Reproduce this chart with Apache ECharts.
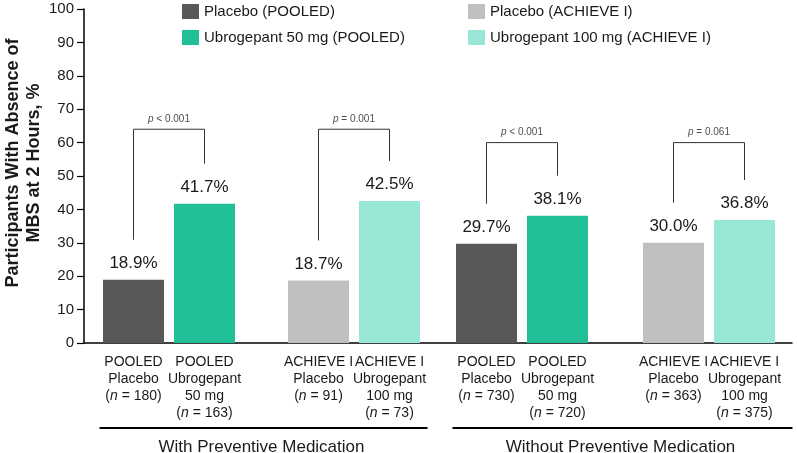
<!DOCTYPE html>
<html>
<head>
<meta charset="utf-8">
<script src="https://cdn.jsdelivr.net/npm/echarts@6/dist/echarts.min.js"></script>
<style>html,body{margin:0;padding:0;background:#fff;}#c{width:797px;height:453px;}</style>
</head>
<body>
<div id="c"></div>
<script>
// ---- data ----
const studyLabels = ['POOLED', 'POOLED', 'ACHIEVE I', 'ACHIEVE I', 'POOLED', 'POOLED', 'ACHIEVE I', 'ACHIEVE I'];
const armLabels = ['Placebo', 'Ubrogepant\n50 mg', 'Placebo', 'Ubrogepant\n100 mg', 'Placebo', 'Ubrogepant\n50 mg', 'Placebo', 'Ubrogepant\n100 mg'];
const nValues = [180, 163, 91, 73, 730, 720, 363, 375];
const values = [18.9, 41.7, 18.7, 42.5, 29.7, 38.1, 30.0, 36.8];
const seriesNames = ['Placebo (POOLED)', 'Ubrogepant 50 mg (POOLED)', 'Placebo (ACHIEVE I)', 'Ubrogepant 100 mg (ACHIEVE I)'];
const pValues = ['< 0.001', '= 0.001', '< 0.001', '= 0.061'];
const groupLabels = ['With Preventive Medication', 'Without Preventive Medication'];
const yTickMin = 0, yTickMax = 100, yTickStep = 10;

// ---- layout ----
const colors = ['#585858', '#21BF97', '#BFBFBF', '#97E6D6'];
const barStep = 71;
const pairStarts = [49.5, 234.5, 402.5, 589.5];
const xMax = 708;
const bracketTop = [64, 64, 60, 60];
const legGap = 12;
const font = '"Liberation Sans", Arial, sans-serif';
const txt = '#1a1a1a';

const pos = [];
pairStarts.forEach(s => { pos.push(s); pos.push(s + barStep); });

const barSeries = seriesNames.map((name, s) => ({
  name: name,
  type: 'bar',
  barWidth: 61,
  barGap: '-100%',
  itemStyle: { color: colors[s] },
  label: {
    show: true, position: 'top', distance: 8,
    fontFamily: font, fontSize: 17, color: txt,
    formatter: p => p.value[1].toFixed(1) + '%'
  },
  data: [[pos[s], values[s]], [pos[s + 4], values[s + 4]]]
}));

const bracketSeries = pValues.map((p, k) => {
  const a = 2 * k, b = 2 * k + 1;
  return {
    type: 'line', symbol: 'none', silent: true, z: 5,
    lineStyle: { color: '#333', width: 1 },
    data: [[pos[a], values[a] + legGap], [pos[a], bracketTop[k]], [pos[b], bracketTop[k]], [pos[b], values[b] + legGap]]
  };
});

const pSeries = {
  type: 'scatter', symbolSize: 0, silent: true, z: 6,
  label: {
    show: true, position: 'top', distance: 5,
    fontFamily: font, fontSize: 10, color: txt,
    formatter: d => '{i|p} ' + d.value[2],
    rich: { i: { fontStyle: 'italic', fontFamily: font, fontSize: 10, color: txt } }
  },
  data: pValues.map((p, k) => [(pos[2 * k] + pos[2 * k + 1]) / 2, bracketTop[k], p])
};

const legendCommon = {
  orient: 'vertical', top: 4, padding: 0, itemWidth: 17, itemHeight: 15, itemGap: 11,
  icon: 'rect', textStyle: { fontFamily: font, fontSize: 15, color: txt }, selectedMode: false
};

const chart = echarts.init(document.getElementById('c'), null, { renderer: 'canvas' });
chart.setOption({
  animation: false,
  backgroundColor: '#fff',
  grid: { left: 84, right: 5, top: 9, bottom: 110, containLabel: false },
  legend: [
    Object.assign({ data: seriesNames.slice(0, 2), left: 182 }, legendCommon),
    Object.assign({ data: seriesNames.slice(2, 4), left: 468 }, legendCommon)
  ],
  xAxis: {
    type: 'value', min: 0, max: xMax,
    splitLine: { show: false },
    axisTick: { show: false },
    axisLine: { show: true, lineStyle: { color: '#000', width: 1.5 } },
    axisLabel: {
      customValues: [0].concat(pos, [xMax]),
      hideOverlap: false,
      margin: 11,
      fontFamily: font, fontSize: 14, color: txt, lineHeight: 17, align: 'center',
      formatter: v => {
        const i = pos.findIndex(p => Math.abs(p - v) < 0.5);
        if (i < 0) return '';
        return studyLabels[i] + '\n' + armLabels[i] + '\n({i|n} = ' + nValues[i] + ')';
      },
      rich: { i: { fontStyle: 'italic', fontFamily: font, fontSize: 14, color: txt, lineHeight: 17 } }
    }
  },
  yAxis: {
    type: 'value', min: yTickMin, max: yTickMax, interval: yTickStep,
    splitLine: { show: false },
    axisLine: { show: true, lineStyle: { color: '#000', width: 1.5 } },
    axisTick: { show: true, length: 7, lineStyle: { color: '#000', width: 1.2 } },
    axisLabel: { fontFamily: font, fontSize: 15, color: txt, margin: 10 }
  },
  series: barSeries.concat(bracketSeries, [pSeries])
});

// group annotations tied to bar positions
const px = x => chart.convertToPixel({ xAxisIndex: 0, yAxisIndex: 0 }, [x, 0]);
const y0 = px(0)[1];
const lineY = y0 + 85;
const spans = [[px(pos[0])[0] - 34, px(pos[3])[0] + 38], [px(pos[4])[0] - 34, px(pos[7])[0] + 48]];
const graphics = [];
spans.forEach((sp, g) => {
  graphics.push({ type: 'line', shape: { x1: sp[0], y1: lineY, x2: sp[1], y2: lineY }, style: { stroke: '#000', lineWidth: 2 } });
  graphics.push({ type: 'text', x: (sp[0] + sp[1]) / 2 - 2, y: lineY + 19,
    style: { text: groupLabels[g], font: '17px ' + font, fill: txt, textAlign: 'center', textVerticalAlign: 'middle' } });
});
graphics.push({ type: 'text', x: 24, y: 163, rotation: Math.PI / 2,
  style: { text: 'Participants With Absence of\nMBS at 2 Hours, %', font: 'bold 18px ' + font, fill: txt,
    textAlign: 'center', textVerticalAlign: 'middle', lineHeight: 21 } });
chart.setOption({ graphic: graphics });
</script>
</body>
</html>
